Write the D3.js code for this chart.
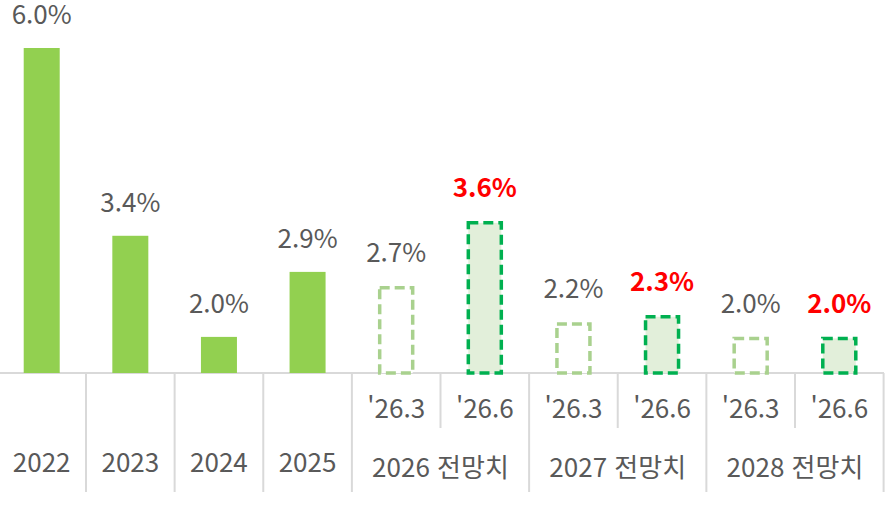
<!DOCTYPE html>
<html lang="ko">
<head>
<meta charset="utf-8">
<script src="https://cdn.jsdelivr.net/npm/d3@7"></script>
<style>
  body { margin: 0; background: #fff; }
  svg text { font-family: "Noto Sans CJK KR", "Noto Sans", sans-serif; }
</style>
</head>
<body>
<svg width="889" height="506"></svg>
<script>
// data
var slots = ["2022", "2023", "2024", "2025", "2026a", "2026b", "2027a", "2027b", "2028a", "2028b"];
var values = [6.0, 3.4, 2.0, 2.9, 2.7, 3.6, 2.2, 2.3, 2.0, 2.0];
var kinds = ["actual", "actual", "actual", "actual", "mar", "jun", "mar", "jun", "mar", "jun"];
var subLabels = ["", "", "", "", "'26.3", "'26.6", "'26.3", "'26.6", "'26.3", "'26.6"];
var groups = [
  {label: "2022", from: 0, to: 0},
  {label: "2023", from: 1, to: 1},
  {label: "2024", from: 2, to: 2},
  {label: "2025", from: 3, to: 3},
  {label: "2026 전망치", from: 4, to: 5},
  {label: "2027 전망치", from: 6, to: 7},
  {label: "2028 전망치", from: 8, to: 9}
];

var svg = d3.select("svg");
var baseY = 373, bottomY = 492;
var fs = 26;

var x = d3.scaleBand().domain(slots).range([-2.6, 883.6]);
var y = d3.scaleLinear().domain([1.5, 6.0]).range([baseY, 48]);
var barW = 36;

// grid lines
var gridColor = "#d9d9d9";
svg.append("line")
  .attr("x1", 0).attr("x2", 884)
  .attr("y1", baseY).attr("y2", baseY)
  .attr("stroke", gridColor).attr("stroke-width", 2);

// dividers: full height between groups, short between sub-categories
slots.forEach(function(s, i) {
  if (i === 0) return;
  var xx = x(s);
  var full = groups.some(function(g) { return g.from === i; });
  svg.append("line")
    .attr("x1", xx).attr("x2", xx)
    .attr("y1", baseY).attr("y2", full ? bottomY : 428)
    .attr("stroke", gridColor).attr("stroke-width", 2);
});
svg.append("line")
  .attr("x1", x.range()[1]).attr("x2", x.range()[1])
  .attr("y1", baseY).attr("y2", bottomY)
  .attr("stroke", gridColor).attr("stroke-width", 2);

// bars
slots.forEach(function(s, i) {
  var cx = x(s) + x.bandwidth() / 2;
  var top = y(values[i]);
  var r = svg.append("rect")
    .attr("x", cx - barW / 2)
    .attr("y", top)
    .attr("width", barW)
    .attr("height", baseY - top);
  if (kinds[i] === "actual") {
    r.attr("fill", "#92d050");
  } else {
    r.attr("fill", kinds[i] === "mar" ? "#fff" : "#e2efda")
      .attr("stroke", kinds[i] === "mar" ? "#a9d18e" : "#00b050")
      .attr("stroke-width", 3.5)
      .attr("stroke-dasharray", "10,5")
      .attr("x", cx - barW / 2 + 1.5).attr("width", barW - 3)
      .attr("y", top + 1.5).attr("height", baseY - top - 1.5);
  }

  svg.append("text")
    .attr("x", cx)
    .attr("y", top - 24)
    .attr("text-anchor", "middle")
    .attr("font-size", fs)
    .attr("font-weight", kinds[i] === "jun" ? "bold" : "normal")
    .attr("fill", kinds[i] === "jun" ? "#ff0000" : "#595959")
    .text(values[i].toFixed(1) + "%");

  if (subLabels[i]) {
    svg.append("text")
      .attr("x", cx)
      .attr("y", 418)
      .attr("text-anchor", "middle")
      .attr("font-size", fs)
      .attr("fill", "#595959")
      .text(subLabels[i]);
  }
});

// group labels
groups.forEach(function(g) {
  var x0 = x(slots[g.from]), x1 = x(slots[g.to]) + x.bandwidth();
  svg.append("text")
    .attr("x", (x0 + x1) / 2)
    .attr("y", g.from === g.to ? 472 : 477)
    .attr("text-anchor", "middle")
    .attr("font-size", fs)
    .attr("fill", "#595959")
    .text(g.label);
});
</script>
</body>
</html>
